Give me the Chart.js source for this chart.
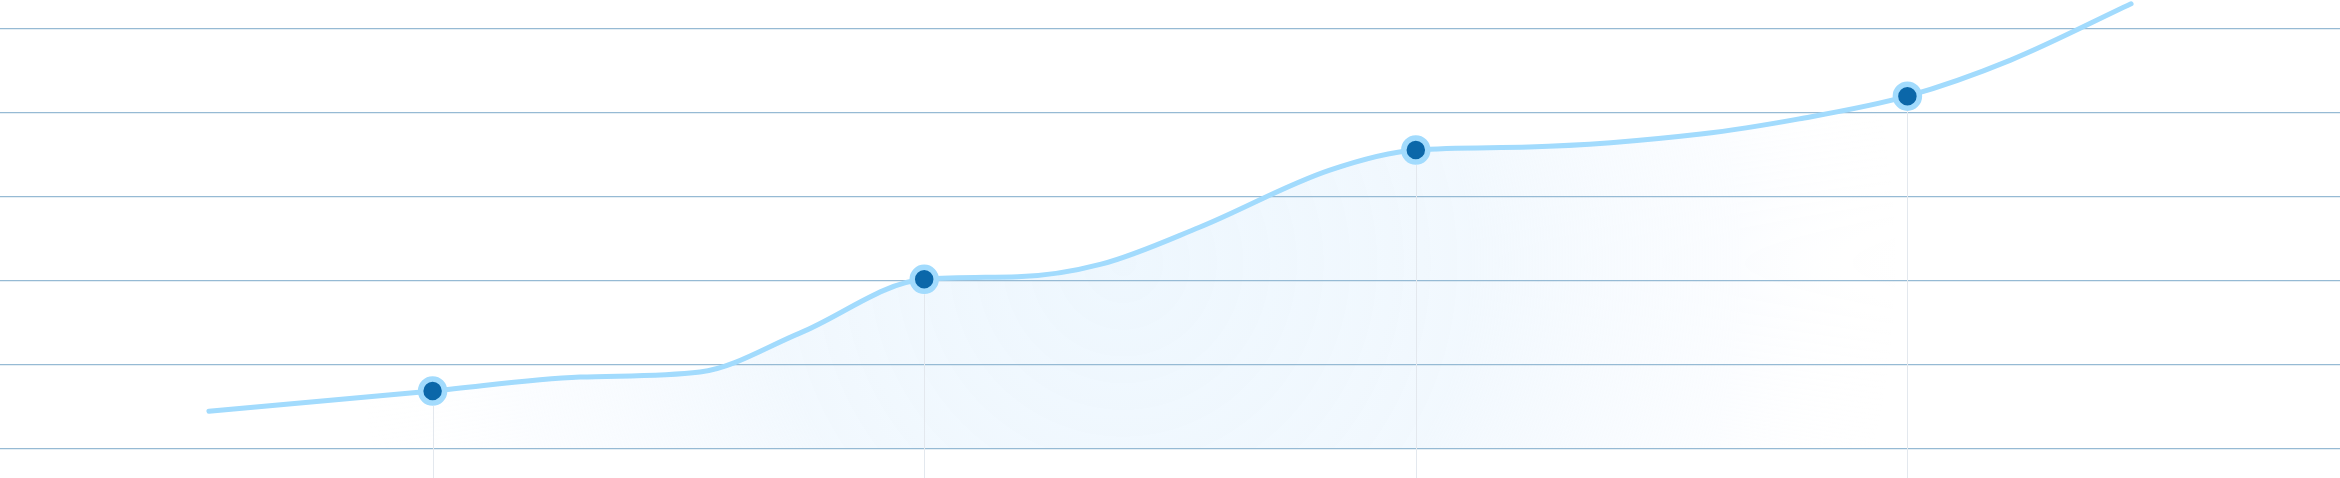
<!DOCTYPE html>
<html>
<head>
<meta charset="utf-8">
<script src="https://cdn.jsdelivr.net/npm/chart.js@4/dist/chart.umd.min.js"></script>
<style>
  html, body { margin: 0; padding: 0; background: #fff; }
  #wrap { width: 2340px; height: 478px; }
</style>
</head>
<body>
<div id="wrap"><canvas id="growthChart"></canvas></div>
<script>
// x position of each reading (weeks), value, and whether it gets a marker
const weeks   = [5.45, 10, 13.0, 15.44, 17.47, 20, 21.9, 23.6, 25.6, 28.25, 30, 32.3, 35.8, 37.8, 40, 42.1, 44.55];
const values  = [4.5, 6.9, 8.57, 9.17, 13.8, 20.2, 20.5, 22.0, 26.4, 33.2, 35.6, 35.95, 37.5, 39.3, 42.0, 46.3, 53.0];
const markers = [0, 1, 0, 0, 0, 1, 0, 0, 0, 0, 1, 0, 0, 0, 1, 0, 0];
const yTicks  = [0, 10, 20, 30, 40, 50];

const lineBlue = '#a2dbfd';
const dotBlue = '#0b67a9';

const points = weeks.map((w, i) => ({ x: w, y: values[i] }));

const areaFill = context => {
    const { ctx, chartArea } = context.chart;
    if (!chartArea) return 'rgba(240,248,254,0.8)';
    const cx = chartArea.width * 0.48;
    const cy = chartArea.height * 0.55;
    const g = ctx.createRadialGradient(cx, cy, 0, cx, cy, chartArea.width * 0.33);
    g.addColorStop(0, 'rgba(238,247,254,1)');
    g.addColorStop(0.45, 'rgba(241,248,254,0.95)');
    g.addColorStop(0.8, 'rgba(248,251,255,0.6)');
    g.addColorStop(1, 'rgba(255,255,255,0)');
    return g;
};

const dropLines = {
    id: 'dropLines',
    afterDatasetsDraw: chart => {
        const { ctx, chartArea } = chart;
        const meta = chart.getDatasetMeta(0);
        ctx.save();
        ctx.strokeStyle = '#e3e8ee';
        ctx.lineWidth = 1;
        meta.data.forEach((pt, i) => {
            if (!markers[i]) return;
            const x = Math.round(pt.x) + 0.5;
            ctx.beginPath();
            ctx.moveTo(x, pt.y + 15);
            ctx.lineTo(x, chartArea.bottom);
            ctx.stroke();
        });
        ctx.restore();
    }
};

new Chart(document.getElementById('growthChart'), {
    type: 'line',
    data: {
        datasets: [{
            data: points,
            borderColor: lineBlue,
            borderWidth: 5,
            borderCapStyle: 'round',
            cubicInterpolationMode: 'monotone',
            tension: 0.4,
            fill: 'origin',
            backgroundColor: areaFill,
            pointRadius: markers.map(m => m ? 12 : 0),
            pointHoverRadius: markers.map(m => m ? 12 : 0),
            pointBorderWidth: 5.5,
            pointBorderColor: lineBlue,
            pointBackgroundColor: dotBlue
        }]
    },
    options: {
        responsive: true,
        maintainAspectRatio: false,
        animation: false,
        events: [],
        layout: { padding: 0 },
        plugins: {
            legend: { display: false },
            tooltip: { enabled: false },
            filler: { drawTime: 'beforeDraw' }
        },
        scales: {
            x: { type: 'linear', min: 1.2, max: 48.8, display: false },
            y: {
                min: -3.45, max: 53.45,
                afterBuildTicks: axis => { axis.ticks = yTicks.map(v => ({ value: v })); },
                ticks: { display: false },
                border: { display: false },
                grid: { color: '#96bad4', lineWidth: 1.3, drawTicks: false }
            }
        }
    },
    plugins: [dropLines]
});
</script>
</body>
</html>
